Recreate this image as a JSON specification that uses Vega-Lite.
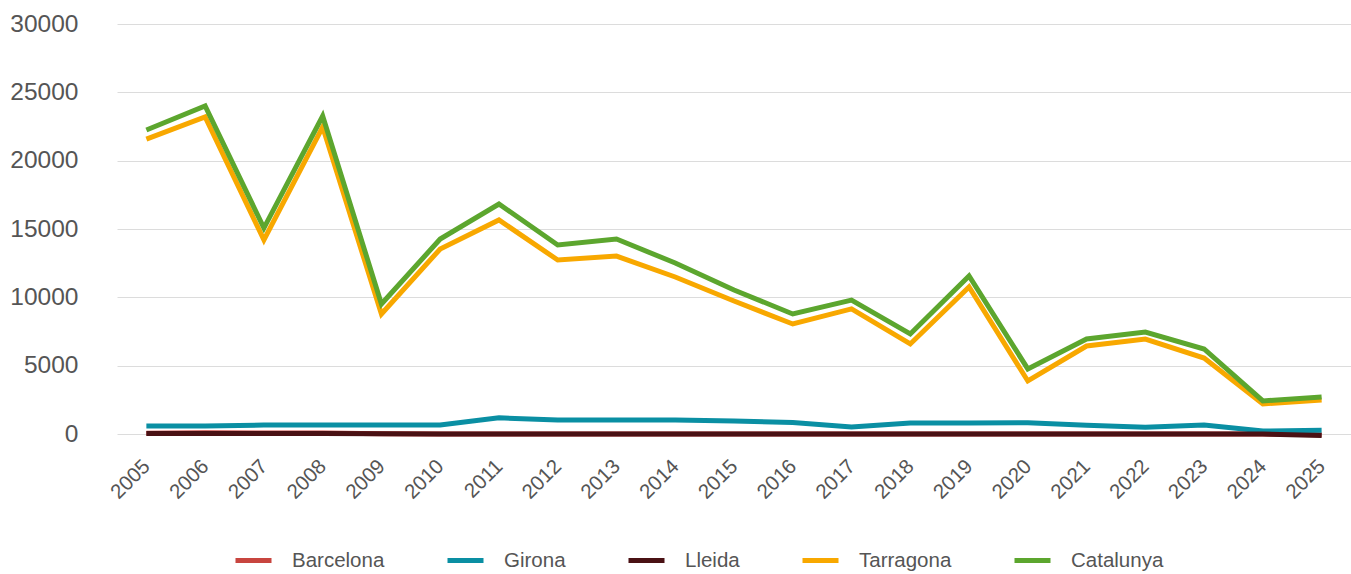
{
  "$schema": "https://vega.github.io/schema/vega-lite/v6.json",
  "width": 1234,
  "height": 410,
  "autosize": "none",
  "padding": {"left": 117, "top": 24, "right": 0, "bottom": 140},
  "background": "white",
  "config": {"view": {"stroke": null}, "font": "Liberation Sans"},
  "data": {"values": [
    {"year": "2005", "s": "Barcelona", "v": 60},
    {"year": "2006", "s": "Barcelona", "v": 90},
    {"year": "2007", "s": "Barcelona", "v": 80},
    {"year": "2008", "s": "Barcelona", "v": 70},
    {"year": "2009", "s": "Barcelona", "v": 10},
    {"year": "2010", "s": "Barcelona", "v": 0},
    {"year": "2011", "s": "Barcelona", "v": 0},
    {"year": "2012", "s": "Barcelona", "v": 0},
    {"year": "2013", "s": "Barcelona", "v": 0},
    {"year": "2014", "s": "Barcelona", "v": 0},
    {"year": "2015", "s": "Barcelona", "v": 0},
    {"year": "2016", "s": "Barcelona", "v": 0},
    {"year": "2017", "s": "Barcelona", "v": 0},
    {"year": "2018", "s": "Barcelona", "v": 0},
    {"year": "2019", "s": "Barcelona", "v": 0},
    {"year": "2020", "s": "Barcelona", "v": 0},
    {"year": "2021", "s": "Barcelona", "v": 0},
    {"year": "2022", "s": "Barcelona", "v": 0},
    {"year": "2023", "s": "Barcelona", "v": 0},
    {"year": "2024", "s": "Barcelona", "v": 0},
    {"year": "2025", "s": "Barcelona", "v": -60},
    {"year": "2005", "s": "Girona", "v": 585},
    {"year": "2006", "s": "Girona", "v": 590},
    {"year": "2007", "s": "Girona", "v": 650},
    {"year": "2008", "s": "Girona", "v": 655},
    {"year": "2009", "s": "Girona", "v": 660},
    {"year": "2010", "s": "Girona", "v": 660},
    {"year": "2011", "s": "Girona", "v": 1180},
    {"year": "2012", "s": "Girona", "v": 1030},
    {"year": "2013", "s": "Girona", "v": 1030},
    {"year": "2014", "s": "Girona", "v": 1030},
    {"year": "2015", "s": "Girona", "v": 950},
    {"year": "2016", "s": "Girona", "v": 850},
    {"year": "2017", "s": "Girona", "v": 520},
    {"year": "2018", "s": "Girona", "v": 800},
    {"year": "2019", "s": "Girona", "v": 810},
    {"year": "2020", "s": "Girona", "v": 820},
    {"year": "2021", "s": "Girona", "v": 640},
    {"year": "2022", "s": "Girona", "v": 500},
    {"year": "2023", "s": "Girona", "v": 650},
    {"year": "2024", "s": "Girona", "v": 220},
    {"year": "2025", "s": "Girona", "v": 270},
    {"year": "2005", "s": "Lleida", "v": 40},
    {"year": "2006", "s": "Lleida", "v": 40},
    {"year": "2007", "s": "Lleida", "v": 30},
    {"year": "2008", "s": "Lleida", "v": 30},
    {"year": "2009", "s": "Lleida", "v": 10},
    {"year": "2010", "s": "Lleida", "v": 0},
    {"year": "2011", "s": "Lleida", "v": 0},
    {"year": "2012", "s": "Lleida", "v": 0},
    {"year": "2013", "s": "Lleida", "v": 0},
    {"year": "2014", "s": "Lleida", "v": 0},
    {"year": "2015", "s": "Lleida", "v": 0},
    {"year": "2016", "s": "Lleida", "v": 0},
    {"year": "2017", "s": "Lleida", "v": 0},
    {"year": "2018", "s": "Lleida", "v": 0},
    {"year": "2019", "s": "Lleida", "v": 0},
    {"year": "2020", "s": "Lleida", "v": 0},
    {"year": "2021", "s": "Lleida", "v": 0},
    {"year": "2022", "s": "Lleida", "v": 0},
    {"year": "2023", "s": "Lleida", "v": 0},
    {"year": "2024", "s": "Lleida", "v": 0},
    {"year": "2025", "s": "Lleida", "v": -110},
    {"year": "2005", "s": "Tarragona", "v": 21580},
    {"year": "2006", "s": "Tarragona", "v": 23200},
    {"year": "2007", "s": "Tarragona", "v": 14200},
    {"year": "2008", "s": "Tarragona", "v": 22460},
    {"year": "2009", "s": "Tarragona", "v": 8780},
    {"year": "2010", "s": "Tarragona", "v": 13540},
    {"year": "2011", "s": "Tarragona", "v": 15660},
    {"year": "2012", "s": "Tarragona", "v": 12730},
    {"year": "2013", "s": "Tarragona", "v": 13020},
    {"year": "2014", "s": "Tarragona", "v": 11490},
    {"year": "2015", "s": "Tarragona", "v": 9730},
    {"year": "2016", "s": "Tarragona", "v": 8050},
    {"year": "2017", "s": "Tarragona", "v": 9150},
    {"year": "2018", "s": "Tarragona", "v": 6590},
    {"year": "2019", "s": "Tarragona", "v": 10760},
    {"year": "2020", "s": "Tarragona", "v": 3880},
    {"year": "2021", "s": "Tarragona", "v": 6440},
    {"year": "2022", "s": "Tarragona", "v": 6950},
    {"year": "2023", "s": "Tarragona", "v": 5560},
    {"year": "2024", "s": "Tarragona", "v": 2200},
    {"year": "2025", "s": "Tarragona", "v": 2490},
    {"year": "2005", "s": "Catalunya", "v": 22240},
    {"year": "2006", "s": "Catalunya", "v": 24000},
    {"year": "2007", "s": "Catalunya", "v": 15070},
    {"year": "2008", "s": "Catalunya", "v": 23270},
    {"year": "2009", "s": "Catalunya", "v": 9510},
    {"year": "2010", "s": "Catalunya", "v": 14270},
    {"year": "2011", "s": "Catalunya", "v": 16830},
    {"year": "2012", "s": "Catalunya", "v": 13830},
    {"year": "2013", "s": "Catalunya", "v": 14270},
    {"year": "2014", "s": "Catalunya", "v": 12510},
    {"year": "2015", "s": "Catalunya", "v": 10540},
    {"year": "2016", "s": "Catalunya", "v": 8780},
    {"year": "2017", "s": "Catalunya", "v": 9800},
    {"year": "2018", "s": "Catalunya", "v": 7320},
    {"year": "2019", "s": "Catalunya", "v": 11560},
    {"year": "2020", "s": "Catalunya", "v": 4760},
    {"year": "2021", "s": "Catalunya", "v": 6950},
    {"year": "2022", "s": "Catalunya", "v": 7460},
    {"year": "2023", "s": "Catalunya", "v": 6220},
    {"year": "2024", "s": "Catalunya", "v": 2420},
    {"year": "2025", "s": "Catalunya", "v": 2710}
  ]},
  "mark": {"type": "line", "strokeWidth": 5, "strokeJoin": "miter", "clip": false},
  "encoding": {
    "x": {
      "field": "year", "type": "ordinal",
      "scale": {"type": "point", "padding": 0.5},
      "axis": {
        "title": null, "domain": false, "ticks": false, "grid": false,
        "labelAngle": -45, "labelAlign": "right", "labelBaseline": "middle",
        "labelFontSize": 20.5, "labelColor": "#555555", "labelPadding": 29
      }
    },
    "y": {
      "field": "v", "type": "quantitative",
      "scale": {"domain": [0, 30000], "nice": false, "zero": false},
      "axis": {
        "title": null, "domain": false, "ticks": false,
        "values": [0, 5000, 10000, 15000, 20000, 25000, 30000],
        "format": "d", "gridColor": "#dcdcdc", "gridWidth": 1,
        "labelFontSize": 24.5, "labelColor": "#555555", "labelPadding": 39
      }
    },
    "color": {
      "field": "s", "type": "nominal",
      "scale": {
        "domain": ["Barcelona", "Girona", "Lleida", "Tarragona", "Catalunya"],
        "range": ["#c8453f", "#0a8fa3", "#4a1114", "#f8a800", "#5ca62e"]
      },
      "legend": {
        "title": null, "orient": "none", "direction": "horizontal", "columns": 5,
        "legendX": 116, "legendY": 516,
        "symbolType": "stroke", "symbolSize": 1296, "symbolStrokeWidth": 5,
        "labelFontSize": 20.5, "labelColor": "#555555", "labelOffset": 18,
        "columnPadding": 52
      }
    }
  }
}
